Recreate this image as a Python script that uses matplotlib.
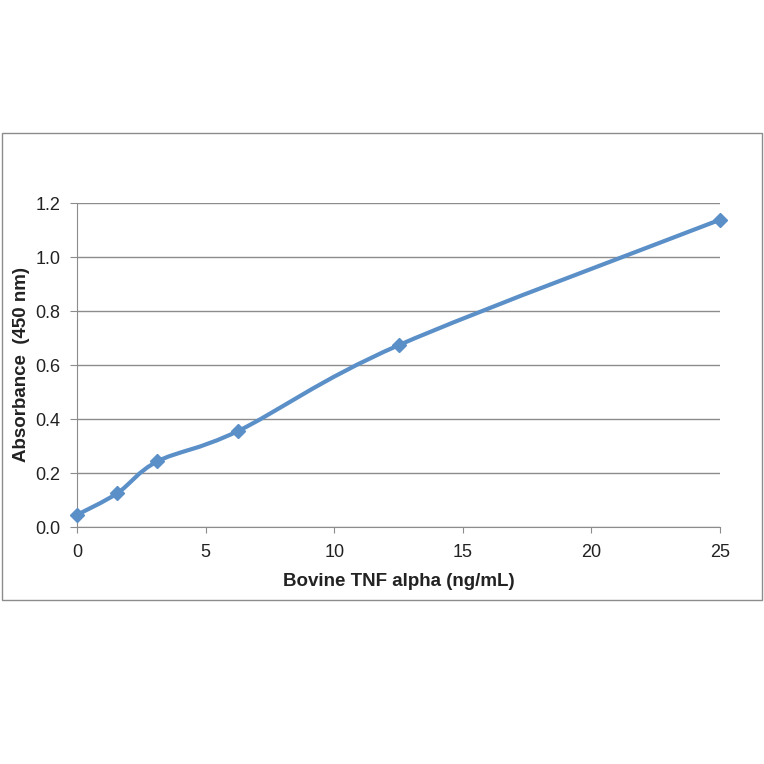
import numpy as np
import matplotlib.pyplot as plt
from matplotlib.path import Path
from matplotlib.patches import PathPatch, Rectangle

# standard curve
conc = [0, 1.5625, 3.125, 6.25, 12.5, 25]
absorb = [0.045, 0.125, 0.243, 0.355, 0.673, 1.138]

x_ticks = [0, 5, 10, 15, 20, 25]
y_ticks = [0.0, 0.2, 0.4, 0.6, 0.8, 1.0, 1.2]

line_col = '#5A8FC8'

plt.rcParams['font.family'] = ['Liberation Sans', 'DejaVu Sans']

fig = plt.figure(figsize=(7.64, 7.64), dpi=100)
fig.patches.append(Rectangle((2 / 764, 1 - 600 / 764), 760 / 764, 467 / 764,
                             transform=fig.transFigure, fill=False,
                             edgecolor='#8c8c8c', linewidth=1.0))

ax = fig.add_axes([77 / 764, 1 - 527 / 764, 643 / 764, 324 / 764])


def smooth_path(xs, ys):
    # bezier through the points, like Excel's smoothed line
    p = np.column_stack([xs, ys]).astype(float)
    n = len(p)
    verts = [p[0]]
    codes = [Path.MOVETO]
    for i in range(n - 1):
        p0 = p[i - 1] if i > 0 else p[i]
        p3 = p[i + 2] if i + 2 < n else p[i + 1]
        c1 = p[i] + (p[i + 1] - p0) / 6
        c2 = p[i + 1] - (p3 - p[i]) / 6
        verts += [c1, c2, p[i + 1]]
        codes += [Path.CURVE4] * 3
    return Path(verts, codes)


ax.add_patch(PathPatch(smooth_path(conc, absorb), fill=False,
                       edgecolor=line_col, linewidth=3, zorder=3))
ax.plot(conc, absorb, linestyle='none', marker='D', markersize=7.5,
        color=line_col, zorder=4, clip_on=False)

ax.set_xlim(0, 25)
ax.set_ylim(0, 1.2)
ax.set_xticks(x_ticks)
ax.set_yticks(y_ticks)
ax.set_yticklabels([f'{v:.1f}' for v in y_ticks])

ax.grid(axis='y', color='#8c8c8c', linewidth=1)
ax.set_axisbelow(True)
for s in ['top', 'right']:
    ax.spines[s].set_visible(False)
for s in ['left', 'bottom']:
    ax.spines[s].set_color('#8c8c8c')
ax.tick_params(axis='both', colors='#8c8c8c', labelcolor='#222222',
               labelsize=13)
ax.tick_params(axis='x', length=4, pad=8)
ax.tick_params(axis='y', length=5, pad=7)

ax.set_xlabel('Bovine TNF alpha (ng/mL)', fontsize=13.5, fontweight='bold',
              color='#222222', labelpad=9)
ax.set_ylabel('Absorbance  (450 nm)', fontsize=13.5, fontweight='bold',
              color='#222222', labelpad=4)

fig.savefig('out.png', dpi=100, facecolor='white')
